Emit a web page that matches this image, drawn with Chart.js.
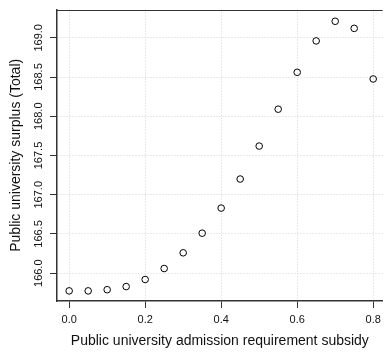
<!DOCTYPE html>
<html>
<head>
<meta charset="utf-8">
<script src="https://cdn.jsdelivr.net/npm/chart.js@4"></script>
<style>
  html, body { margin: 0; padding: 0; background: #fff; }
  #wrap { width: 387px; height: 356px; position: relative; }
</style>
</head>
<body>
<div id="wrap"><canvas id="plot"></canvas></div>
<script>
const subsidy = [0.0, 0.05, 0.1, 0.15, 0.2, 0.25, 0.3, 0.35, 0.4, 0.45, 0.5, 0.55, 0.6, 0.65, 0.7, 0.75, 0.8];
const surplus = [165.775, 165.775, 165.79, 165.83, 165.92, 166.06, 166.26, 166.51, 166.83, 167.2,
                 167.62, 168.09, 168.56, 168.96, 169.21, 169.12, 168.475];

const X_TITLE = 'Public university admission requirement subsidy';
const Y_TITLE = 'Public university surplus (Total)';

const FONT = "'Liberation Sans', Arial, Helvetica, sans-serif";
const AXIS = '#333333';
const GRID = '#d3d3d3';

// rotated y tick labels, R style (reading bottom to top)
const yLabels = {
  id: 'yLabels',
  afterDraw(chart) {
    const { ctx, chartArea, scales: { y } } = chart;
    ctx.save();
    ctx.fillStyle = '#111';
    ctx.font = '11px ' + FONT;
    ctx.textAlign = 'center';
    ctx.textBaseline = 'middle';
    y.ticks.forEach(t => {
      const py = y.getPixelForValue(t.value);
      ctx.save();
      ctx.translate(39, py);
      ctx.rotate(-Math.PI / 2);
      ctx.fillText(t.value.toFixed(1), 0, 0);
      ctx.restore();
    });
    // top edge of the box
    ctx.strokeStyle = AXIS;
    ctx.lineWidth = 1;
    ctx.beginPath();
    ctx.moveTo(chartArea.left, Math.round(chartArea.top) + 0.5);
    ctx.lineTo(chartArea.right, Math.round(chartArea.top) + 0.5);
    ctx.stroke();
    ctx.restore();
  }
};

new Chart(document.getElementById('plot'), {
  type: 'scatter',
  data: {
    datasets: [{
      data: subsidy.map((x, i) => ({ x, y: surplus[i] })),
      pointStyle: 'circle',
      pointRadius: 3.3,
      pointHoverRadius: 3.3,
      borderColor: '#000',
      borderWidth: 1,
      backgroundColor: 'rgba(0,0,0,0)',
    }]
  },
  options: {
    responsive: true,
    maintainAspectRatio: false,
    animation: false,
    events: [],
    layout: { padding: { top: 4, right: 0, left: 0, bottom: 0 } },
    plugins: { legend: { display: false }, tooltip: { enabled: false } },
    scales: {
      x: {
        type: 'linear',
        min: -0.032,
        max: 0.825,
        afterFit: s => { s.height = 55; },
        border: { display: true, color: AXIS, width: 1.5, dash: [1, 2] },
        grid: {
          color: GRID, lineWidth: 1,
          drawTicks: true, tickLength: 7, tickColor: AXIS, tickWidth: 1, tickBorderDash: []
        },
        ticks: {
          stepSize: 0.2,
          includeBounds: false,
          padding: 5,
          color: '#111',
          font: { family: FONT, size: 11 },
          maxRotation: 0,
          callback: v => v.toFixed(1),
        },
        title: {
          display: true,
          text: X_TITLE,
          color: '#111',
          font: { family: FONT, size: 14 },
          padding: { top: 0, bottom: 6.6 },
        }
      },
      y: {
        type: 'linear',
        min: 165.646,
        max: 169.359,
        afterFit: s => { s.width = 57; },
        border: { display: true, color: AXIS, width: 1.5, dash: [1, 2] },
        grid: {
          color: GRID, lineWidth: 1,
          drawTicks: true, tickLength: 7, tickColor: AXIS, tickWidth: 1, tickBorderDash: []
        },
        ticks: {
          stepSize: 0.5,
          includeBounds: false,
          color: 'rgba(0,0,0,0)',
          font: { family: FONT, size: 11 },
        },
        title: {
          display: true,
          text: Y_TITLE,
          color: '#111',
          font: { family: FONT, size: 14 },
          padding: { top: 7.6, bottom: 0 },
        }
      }
    }
  },
  plugins: [yLabels]
});
</script>
</body>
</html>
